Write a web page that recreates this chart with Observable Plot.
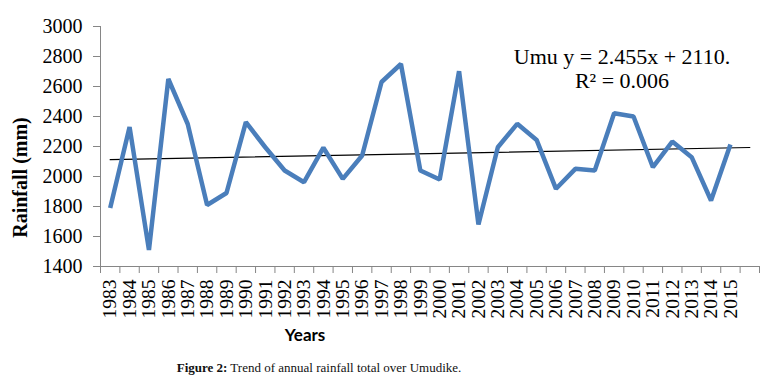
<!DOCTYPE html>
<html>
<head>
<meta charset="utf-8">
<script src="https://cdn.jsdelivr.net/npm/d3@7"></script>
<script src="https://cdn.jsdelivr.net/npm/@observablehq/plot@0.6"></script>
<style>
  body { margin: 0; background: #fff; }
  #cap { width: 638px; text-align: center; font-family: "Liberation Serif", serif; font-size: 13px; line-height: 16px; padding-top: 10px; color: #111; }
  #cap b { font-weight: bold; }
  #chart svg text { font-family: "Liberation Serif", serif !important; font-variant: normal !important; }
  #chart svg .years-label text { font-family: "Lato", sans-serif !important; }
</style>
</head>
<body>
<div id="chart"></div>
<div id="cap"><b>Figure 2:</b> Trend of annual rainfall total over Umudike.</div>
<script>
const years = [1983,1984,1985,1986,1987,1988,1989,1990,1991,1992,1993,1994,1995,1996,1997,1998,1999,2000,2001,2002,2003,2004,2005,2006,2007,2008,2009,2010,2011,2012,2013,2014,2015];
const rainfall = [1790,2330,1510,2650,2350,1810,1890,2362,2195,2040,1962,2192,1984,2140,2630,2750,2040,1980,2702,1680,2195,2351,2244,1918,2051,2040,2422,2400,2062,2233,2129,1840,2213];
const yTicks = [1400,1600,1800,2000,2200,2400,2600,2800,3000];
const slope = 2.455, intercept = 2110;
const eqLine1 = "Umu y = 2.455x + 2110.";
const eqLine2 = "R\u00B2 = 0.006";

const data = years.map((y, i) => ({i: i + 1, year: y, v: rainfall[i]}));
const nCat = years.length + 1; // Excel axis leaves one empty category after 2015
const trend = [1, nCat].map(i => ({i, v: slope * i + intercept}));
const boundaries = d3.range(0.5, nCat + 1, 1);
const centers = data.map(d => d.i);

const gray = "#868686";
const serif = "Liberation Serif";

const plot = Plot.plot({
  width: 770,
  height: 350,
  marginLeft: 100,
  marginRight: 11,
  marginTop: 26,
  marginBottom: 84,
  style: {fontFamily: serif, color: "#000", background: "#fff"},
  x: {type: "linear", domain: [0.5, nCat + 0.5], label: null},
  y: {domain: [1400, 3000], label: null},
  marks: [
    Plot.ruleX([0.5], {stroke: gray, strokeWidth: 1}),
    Plot.ruleY([1400], {stroke: gray, strokeWidth: 1}),
    Plot.axisY(yTicks, {tickSize: 7, tickPadding: 11, stroke: gray, fill: "#000", fontSize: 20, fontFamily: serif, tickFormat: d => String(d), label: null}),
    Plot.axisX(boundaries, {tickSize: 7, stroke: gray, tickFormat: () => "", label: null}),
    Plot.axisX(centers, {tickSize: 0, tickPadding: 13, tickRotate: -90, fill: "#000", fontSize: 19.5, fontFamily: serif, tickFormat: i => String(years[i - 1]), label: null}),
    Plot.line(trend, {x: "i", y: "v", stroke: "#000", strokeWidth: 1.2}),
    Plot.line(data, {x: "i", y: "v", stroke: "#4a7ebb", strokeWidth: 4.5, strokeLinejoin: "miter", strokeLinecap: "butt"}),
    Plot.text([eqLine1], {frameAnchor: "top", dx: 192, dy: 22, fontSize: 22, fontFamily: serif, fill: "#000", textAnchor: "middle"}),
    Plot.text([eqLine2], {frameAnchor: "top", dx: 192, dy: 46, fontSize: 22, fontFamily: serif, fill: "#000", textAnchor: "middle"}),
    Plot.text(["Rainfall (mm)"], {frameAnchor: "left", dx: -80, dy: 31, rotate: -90, fontSize: 20, fontWeight: "bold", fontFamily: serif, fill: "#000", textAnchor: "middle"}),
    Plot.text(["Years"], {className: "years-label", frameAnchor: "bottom", dx: -125, dy: 74, fontSize: 17, fontWeight: "bold", fontFamily: "Lato", fill: "#000", textAnchor: "middle"})
  ]
});
document.getElementById("chart").appendChild(plot);
</script>
</body>
</html>
